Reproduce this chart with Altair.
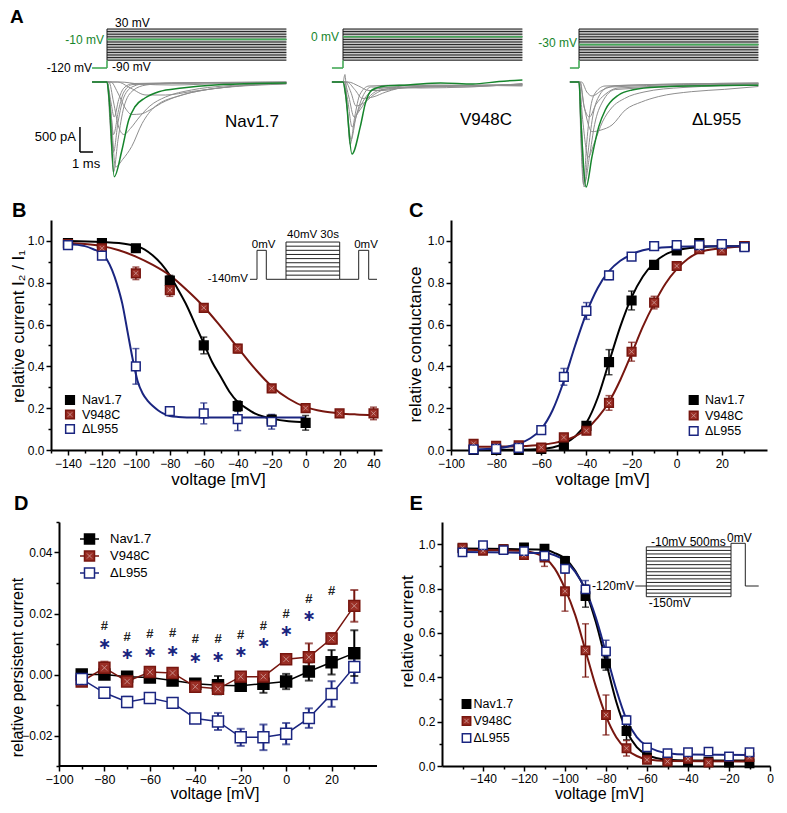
import altair as alt
import pandas as pd

FONT = "Liberation Sans"
SERIES = ["Nav1.7", "V948C", "\u0394L955"]

BLACK = "#000000"
RED = "#77160f"
RED_FILL = "#9a2e25"
BLUE = "#1a2580"
GREEN = "#16852c"
GREEN_STEP = "#44a957"
TRACE_GREY = "#8e8e8e"
PROT_GREY = "#c8c8c8"
XSHAPE = "M-1,-1L1,1M1,-1L-1,1"
FILLS = [BLACK, RED_FILL, "#ffffff"]
STROKES = [BLACK, RED, BLUE]

FILL_SCALE = alt.Scale(domain=SERIES, range=FILLS)
LINE_SCALE = alt.Scale(domain=SERIES, range=STROKES)
ONE = pd.DataFrame({"k": [0]})

# ---------------- Panel A : example traces ----------------
A_LEVELS = list(range(-90, 40, 10))
A_HOLD = -120
A_GREEN_LEVEL = [-10, 0, -30]
A_TRACE_START = [-1.15, -0.85, -0.7]
A_T_END = 13.8

A_NAV_GREEN = ([-1.15, 0, 0.15, 0.56, 1.15, 1.67, 2.15, 2.92, 3.98, 5.77, 8.3, 13.8],
               [0, 0, -300, -1894, -1360, -760, -495, -320, -194, -120, -60, -20])
A_NAV_GREY = [
    ([-1.15, 0, 0.3, 0.55, 0.9, 1.3, 2.0, 13.8], [0, 0, -400, -700, -350, -120, -30, 0]),
    ([-1.15, 0, 0.3, 0.5, 0.9, 1.3, 2.0, 13.8], [0, 0, -600, -1050, -550, -200, -50, -5]),
    ([-1.15, 0, 0.3, 0.5, 0.85, 1.3, 2.0, 3.0, 13.8], [0, 0, -800, -1400, -800, -300, -90, -30, -5]),
    ([-1.15, 0, 0.25, 0.5, 0.85, 1.3, 2.0, 3.0, 5.0, 13.8], [0, 0, -900, -1800, -1150, -500, -170, -60, -20, -5]),
    ([-1.15, 0, 0.3, 0.65, 1.2, 1.9, 2.7, 3.7, 5.8, 8.3, 13.8], [0, 0, -600, -1700, -1550, -1290, -830, -490, -260, -130, -30]),
    ([-1.15, 0.15, 0.5, 0.9, 1.3, 1.8, 2.5, 3.3, 4.5, 6.5, 9.0, 13.8], [0, 0, -400, -900, -1050, -930, -700, -480, -300, -160, -80, -25]),
    ([-1.15, 0.3, 0.8, 1.4, 1.9, 2.6, 3.3, 4.2, 5.5, 7.5, 10.0, 13.8], [0, 0, -200, -520, -650, -640, -560, -420, -280, -160, -80, -30]),
    ([-1.15, 0.8, 1.8, 3.0, 4.5, 6.5, 9.0, 13.8], [0, 0, -120, -260, -260, -190, -110, -40]),
    ([-1.15, 1.0, 2.5, 5.0, 9.0, 13.8], [0, 0, -40, -60, -30, -10]),
]
A_V948C_GREEN = ([-0.85, 0, 0.2, 0.69, 1.33, 1.72, 2.23, 3.25, 5.0, 7.5, 10.0, 12.0, 13.8],
                 [0, 0, -250, -1440, -893, -427, -160, -80, -60, -20, -40, 10, 40])
A_V948C_GREY = [
    ([-0.85, 0, 0.15, 0.3, 0.55, 0.9, 1.3, 2.0, 5.0, 9.0, 13.8], [0, 0, 150, -400, -1250, -700, -250, -80, -60, -100, -30]),
    ([-0.85, 0, 0.3, 0.62, 1.0, 1.5, 2.2, 6.0, 13.8], [0, 0, -500, -1150, -700, -300, -100, -120, -40]),
    ([-0.85, 0, 0.35, 0.7, 1.1, 1.7, 2.5, 7.0, 13.8], [0, 0, -350, -900, -620, -320, -140, -60, -80]),
    ([-0.85, 0.1, 0.45, 0.85, 1.3, 2.0, 3.0, 8.0, 13.8], [0, 0, -300, -700, -560, -300, -150, -90, -50]),
    ([-0.85, 0.2, 0.6, 1.0, 1.6, 2.4, 3.5, 9.0, 13.8], [0, 0, -200, -480, -420, -250, -130, -70, -60]),
    ([-0.85, 0.3, 0.9, 1.5, 2.3, 3.3, 5.0, 13.8], [0, 0, -150, -330, -300, -200, -100, -60]),
    ([-0.85, 0.4, 1.2, 2.0, 3.0, 4.5, 7.0, 13.8], [0, 0, -80, -170, -170, -120, -80, -60]),
]
A_DL_GREEN = ([-0.7, 0, 0.15, 0.55, 1.0, 1.52, 2.02, 3.05, 4.08, 6.1, 11.2, 13.8],
              [0, 0, -800, -2100, -1493, -893, -560, -260, -160, -100, -70, -65])
A_DL_GREY = [
    ([-0.7, 0, 0.15, 0.35, 0.6, 0.9, 1.3, 2.0, 13.8], [0, 0, -1200, -2050, -1200, -500, -200, -80, -20]),
    ([-0.7, 0, 0.15, 0.4, 0.7, 1.05, 1.5, 2.3, 13.8], [0, 0, -1000, -2100, -1400, -700, -300, -100, -30]),
    ([-0.7, 0, 0.2, 0.45, 0.8, 1.2, 1.8, 2.8, 13.8], [0, 0, -900, -2000, -1500, -850, -400, -150, -40]),
    ([-0.7, 0, 0.3, 0.7, 1.2, 1.8, 2.5, 3.5, 5.0, 8.0, 13.8], [0, 0, -800, -1500, -1200, -800, -520, -330, -200, -110, -60]),
    ([-0.7, 0.05, 0.4, 1.0, 1.7, 2.54, 3.56, 4.8, 6.1, 8.66, 11.2, 13.8], [0, 0, -500, -993, -960, -860, -560, -400, -293, -193, -147, -90]),
    ([-0.7, 0.1, 0.4, 0.8, 1.3, 2.0, 3.0, 13.8], [0, 0, -500, -700, -450, -250, -120, -40]),
    ([-0.7, 0.2, 0.6, 1.0, 1.8, 3.0, 13.8], [0, 0, -200, -280, -160, -70, -20]),
]
A_SCALEBAR = [(-2.08, -900, -2.08, -1400), (-2.08, -1400, -1.08, -1400)]  # 500 pA, 1 ms

# ---------------- Panel B ----------------
B_NAV_V = [-140, -120, -100, -80, -60, -40, -20, 0]
B_NAV_Y = [0.99, 0.99, 0.965, 0.81, 0.50, 0.21, 0.145, 0.13]
B_NAV_E = [0.01, 0.01, 0.01, 0.025, 0.04, 0.025, 0.02, 0.035]
B_V948C_V = [-140, -120, -100, -80, -60, -40, -20, 0, 20, 40]
B_V948C_Y = [0.985, 0.965, 0.845, 0.765, 0.68, 0.485, 0.295, 0.20, 0.175, 0.175]
B_V948C_E = [0.01, 0.01, 0.03, 0.03, 0.015, 0.02, 0.01, 0.015, 0.01, 0.03]
B_DL_V = [-140, -120, -100, -80, -60, -40, -20]
B_DL_Y = [0.98, 0.93, 0.40, 0.186, 0.175, 0.148, 0.135]
B_DL_E = [0.02, 0.01, 0.085, 0.01, 0.05, 0.055, 0.035]
B_FIT_NAV_V = [-140, -120, -110, -100, -95, -90, -85, -80, -75, -70, -65, -60, -55, -50, -45, -40, -35, -30, -25, -20, -10, 0]
B_FIT_NAV_Y = [1.0, 0.995, 0.99, 0.975, 0.96, 0.93, 0.89, 0.835, 0.765, 0.69, 0.60, 0.51, 0.42, 0.35, 0.28, 0.23, 0.20, 0.175, 0.16, 0.15, 0.137, 0.132]
B_FIT_V948C_V = [-140, -130, -120, -110, -100, -90, -80, -70, -60, -50, -40, -30, -20, -10, 0, 10, 20, 30, 40]
B_FIT_V948C_Y = [0.99, 0.985, 0.975, 0.955, 0.925, 0.885, 0.835, 0.765, 0.685, 0.59, 0.49, 0.39, 0.305, 0.245, 0.205, 0.185, 0.175, 0.17, 0.167]
B_FIT_DL_V = [-140, -130, -125, -120, -117, -114, -111, -108, -105, -102, -99, -96, -93, -90, -87, -84, -80, -75, -70, -60, -40, -20, 0]
B_FIT_DL_Y = [0.985, 0.975, 0.96, 0.94, 0.91, 0.86, 0.79, 0.70, 0.57, 0.44, 0.33, 0.27, 0.235, 0.21, 0.19, 0.175, 0.163, 0.158, 0.156, 0.155, 0.155, 0.155, 0.155]
B_INSET_SEG = [(0, -140, 7, -140), (7, -140, 7, 0), (7, 0, 16.3, 0), (16.3, 0, 16.3, -140),
               (16.3, -140, 36, -140), (36, -140, 36, 40), (89.7, -140, 89.7, 40),
               (89.7, -140, 108.7, -140), (108.7, -140, 108.7, 0), (108.7, 0, 118.7, 0),
               (118.7, 0, 118.7, -140), (118.7, -140, 127, -140)]
B_INSET_BLOCK = (36, 89.7, list(range(-140, 41, 20)))

# ---------------- Panel C ----------------
C_V = [-90, -80, -70, -60, -50, -40, -30, -20, -10, 0, 10, 20, 30]
C_NAV_Y = [0.0, 0.0, 0.0, 0.005, 0.02, 0.115, 0.42, 0.715, 0.885, 0.955, 0.99, 0.98, 0.975]
C_NAV_E = [0, 0, 0, 0.005, 0.01, 0.015, 0.06, 0.045, 0.02, 0.01, 0.01, 0.01, 0.01]
C_V948C_Y = [0.03, 0.02, 0.022, 0.012, 0.06, 0.092, 0.225, 0.47, 0.705, 0.88, 0.96, 0.955, 0.975]
C_V948C_E = [0.005, 0.005, 0.005, 0.005, 0.01, 0.01, 0.035, 0.045, 0.03, 0.01, 0.01, 0.01, 0.01]
C_DL_Y = [0.003, 0.005, 0.01, 0.095, 0.35, 0.665, 0.835, 0.925, 0.975, 0.98, 0.98, 0.985, 0.97]
C_DL_E = [0, 0, 0, 0.01, 0.04, 0.04, 0.02, 0.01, 0.01, 0.01, 0.01, 0.01, 0.01]
C_FIT_NAV_V = [-90, -70, -60, -55, -50, -45, -40, -35, -30, -25, -20, -15, -10, -5, 0, 10, 20, 30]
C_FIT_NAV_Y = [0.0, 0.001, 0.005, 0.012, 0.03, 0.065, 0.13, 0.25, 0.42, 0.59, 0.73, 0.83, 0.895, 0.935, 0.955, 0.97, 0.975, 0.975]
C_FIT_V948C_V = [-90, -80, -70, -60, -50, -45, -40, -35, -30, -25, -20, -15, -10, -5, 0, 5, 10, 20, 30]
C_FIT_V948C_Y = [0.015, 0.016, 0.018, 0.025, 0.045, 0.065, 0.10, 0.155, 0.23, 0.335, 0.46, 0.59, 0.70, 0.795, 0.865, 0.915, 0.945, 0.965, 0.975]
C_FIT_DL_V = [-90, -80, -75, -70, -65, -60, -55, -50, -45, -40, -35, -30, -25, -20, -15, -10, 0, 10, 20, 30]
C_FIT_DL_Y = [0.002, 0.008, 0.016, 0.03, 0.055, 0.10, 0.19, 0.33, 0.50, 0.655, 0.775, 0.855, 0.905, 0.935, 0.955, 0.965, 0.972, 0.975, 0.975, 0.975]

# ---------------- Panel D ----------------
D_V = [-90, -80, -70, -60, -50, -40, -30, -20, -10, 0, 10, 20, 30]
D_NAV_Y = [0.0, 0.0, -0.0007, -0.001, -0.002, -0.003, -0.0035, -0.0037, -0.003, -0.0023, 0.001, 0.004, 0.007]
D_NAV_E = [0.001, 0.001, 0.001, 0.001, 0.001, 0.001, 0.003, 0.001, 0.003, 0.0025, 0.003, 0.004, 0.0075]
D_V948C_Y = [-0.0023, 0.0022, -0.0023, 0.0008, 0.0005, -0.004, -0.0047, -0.0007, -0.0007, 0.005, 0.0057, 0.0118, 0.0225]
D_V948C_E = [0.0005, 0.002, 0.0005, 0.0005, 0.0005, 0.001, 0.001, 0.001, 0.001, 0.001, 0.0045, 0.0018, 0.0052]
D_DL_Y = [-0.0015, -0.006, -0.009, -0.0077, -0.0093, -0.0144, -0.0154, -0.0206, -0.0206, -0.0194, -0.0143, -0.0064, 0.0025]
D_DL_E = [0.0005, 0.0015, 0.0017, 0.001, 0.001, 0.001, 0.0028, 0.0028, 0.0042, 0.0035, 0.0032, 0.0042, 0.0053]
D_HASH_V = [-80, -70, -60, -50, -40, -30, -20, -10, 0, 10, 20]
D_HASH_Y = [0.016, 0.0123, 0.0134, 0.0137, 0.0115, 0.0115, 0.0131, 0.016, 0.0198, 0.0249, 0.0275]
D_STAR_V = [-80, -70, -60, -50, -40, -30, -20, -10, 0, 10]
D_STAR_Y = [0.0101, 0.0067, 0.0075, 0.0078, 0.0053, 0.0057, 0.0073, 0.0102, 0.0142, 0.0193]
D_X_RANGE = [-100, 40]

# ---------------- Panel E ----------------
E_V = [-150, -140, -130, -120, -110, -100, -90, -80, -70, -60, -50, -40, -30, -20, -10]
E_NAV_Y = [0.981, 0.978, 0.978, 0.985, 0.98, 0.924, 0.766, 0.462, 0.158, 0.04, 0.025, 0.02, 0.02, 0.015, 0.012]
E_NAV_E = [0.005, 0.005, 0.005, 0.005, 0.01, 0.02, 0.05, 0.03, 0.04, 0.01, 0.005, 0.005, 0.005, 0.005, 0.005]
E_V948C_Y = [0.984, 0.97, 0.978, 0.951, 0.94, 0.788, 0.521, 0.23, 0.08, 0.028, 0.02, 0.032, 0.015, 0.04, 0.04]
E_V948C_E = [0.005, 0.005, 0.005, 0.01, 0.04, 0.09, 0.12, 0.09, 0.035, 0.01, 0.005, 0.005, 0.005, 0.005, 0.005]
E_DL_Y = [0.963, 0.995, 0.973, 0.969, 0.948, 0.889, 0.796, 0.517, 0.207, 0.084, 0.058, 0.062, 0.065, 0.043, 0.062]
E_DL_E = [0.005, 0.005, 0.005, 0.005, 0.01, 0.02, 0.04, 0.05, 0.02, 0.01, 0.005, 0.005, 0.005, 0.005, 0.005]
E_FIT_NAV_V = [-150, -110, -105, -100, -95, -90, -85, -80, -75, -70, -65, -60, -55, -50, -40, -10]
E_FIT_NAV_Y = [0.98, 0.975, 0.96, 0.935, 0.88, 0.79, 0.65, 0.47, 0.29, 0.16, 0.085, 0.05, 0.035, 0.028, 0.025, 0.025]
E_FIT_V948C_V = [-150, -120, -115, -110, -105, -100, -95, -90, -85, -80, -75, -70, -65, -60, -50, -10]
E_FIT_V948C_Y = [0.975, 0.97, 0.96, 0.94, 0.89, 0.80, 0.68, 0.52, 0.36, 0.225, 0.13, 0.075, 0.045, 0.03, 0.022, 0.02]
E_FIT_DL_V = [-150, -110, -105, -100, -95, -90, -85, -80, -75, -70, -65, -60, -55, -50, -40, -10]
E_FIT_DL_Y = [0.965, 0.96, 0.95, 0.925, 0.875, 0.795, 0.67, 0.51, 0.345, 0.21, 0.13, 0.09, 0.068, 0.058, 0.052, 0.05]
E_INSET_SEG = [(0, -120, 11, -120), (11, -150, 11, -10), (95.7, -150, 95.7, 0), (95.7, 0, 110, 0),
               (110, 0, 110, -120), (110, -120, 123.4, -120)]
E_INSET_BLOCK = (11, 95.7, list(range(-150, -9, 10)))


# ================= helpers =================
def pts_df(rows):
    recs = []
    for name, vs, ys, es in rows:
        for v, y, e in zip(vs, ys, es):
            recs.append({"series": name, "v": v, "y": y, "lo": y - e, "hi": y + e})
    return pd.DataFrame(recs)


def line_df(rows):
    recs = []
    for name, vs, ys in rows:
        for v, y in zip(vs, ys):
            recs.append({"series": name, "v": v, "y": y})
    return pd.DataFrame(recs)


def txt(s, x, y, size=12, color="black", align="left", baseline="middle", weight="normal", font=FONT):
    return alt.Chart(ONE).mark_text(text=s, align=align, baseline=baseline, fontSize=size,
                                    color=color, fontWeight=weight, font=font).encode(
        x=alt.value(x), y=alt.value(y))


def letter(s, x, y, size=20):
    return txt(s, x, y, size=size, weight="bold", align="left", baseline="alphabetic")


def x_axis(values, title_x, size=12, pad=3, domain=True, title_y=29, title_size=17):
    test = "abs(round(datum.value)) % 20 == 0"
    return alt.Axis(values=values, format="d", labelExpr=f"({test}) ? datum.label : ''",
                    tickSize={"condition": {"test": test, "value": 5}, "value": 3},
                    title="voltage [mV]", titleX=title_x, titleY=title_y, titleBaseline="middle",
                    titleAlign="center", titleAngle=0, labelFontSize=size, labelPadding=pad,
                    domain=domain, titleFontSize=title_size)


def y_axis(values, fmt, mult, title, title_x, title_y, size=12, offset=0, title_size=17):
    test = f"abs(round(datum.value*{mult})) % 2 == 0"
    return alt.Axis(values=values, format=fmt, labelExpr=f"({test}) ? datum.label : ''",
                    tickSize={"condition": {"test": test, "value": 5}, "value": 3},
                    title=title, titleX=title_x, titleY=title_y, titleBaseline="middle",
                    titleAlign="center", titleAngle=270, labelFontSize=size, labelPadding=2,
                    offset=offset, titleFontSize=title_size)


def seg_layer(segs, xs, ys, color, width):
    df = pd.DataFrame([{"t1": a, "v1": b, "t2": c, "v2": d} for a, b, c, d in segs])
    return alt.Chart(df).mark_rule(color=color, strokeWidth=width).encode(
        x=alt.X("t1:Q", scale=xs, axis=None), x2="t2:Q",
        y=alt.Y("v1:Q", scale=ys, axis=None), y2="v2:Q")


def data_layers(curves, pts, X, Y, size, cap, ew, lines=False):
    col = alt.Color("series:N", scale=LINE_SCALE, legend=None)
    layers = []
    if curves is not None:
        layers.append(alt.Chart(curves).mark_line(strokeWidth=2, interpolate="monotone").encode(
            x=X("v"), y=Y("y"), color=col))
    if lines:
        layers.append(alt.Chart(pts).mark_line(strokeWidth=1.5).encode(x=X("v"), y=Y("y"), color=col))
    layers.append(alt.Chart(pts).mark_rule(strokeWidth=ew).encode(x=X("v"), y=Y("lo"), y2="hi:Q", color=col))
    for f in ("lo", "hi"):
        layers.append(alt.Chart(pts).mark_tick(orient="horizontal", size=cap, thickness=ew).encode(
            x=X("v"), y=Y(f), color=col))
    layers.append(alt.Chart(pts).mark_square(size=size, strokeWidth=1.5, opacity=1).encode(
        x=X("v"), y=Y("y"),
        fill=alt.Fill("series:N", scale=FILL_SCALE, legend=None),
        stroke=alt.Stroke("series:N", scale=LINE_SCALE, legend=None)))
    layers.append(alt.Chart(pts).transform_filter(alt.datum.series == "V948C").mark_point(
        shape=XSHAPE, size=size * 0.25, stroke="white", strokeWidth=0.8, opacity=0.55, filled=False).encode(
        x=X("v"), y=Y("y")))
    return layers


def key_legend(x_sym, y0, dy, x_lab, size, font_size=12.5, line_half=None):
    """Legend keys drawn as marks: symbol (optionally with a line through it) and label."""
    layers = []
    for i, s in enumerate(SERIES):
        y = y0 + i * dy
        if line_half:
            layers.append(alt.Chart(ONE).mark_rule(color=STROKES[i], strokeWidth=1.5).encode(
                x=alt.value(x_sym - line_half), x2=alt.value(x_sym + line_half), y=alt.value(y)))
        layers.append(alt.Chart(ONE).mark_square(size=size, fill=FILLS[i], stroke=STROKES[i],
                                                 strokeWidth=1.5, opacity=1).encode(
            x=alt.value(x_sym), y=alt.value(y)))
        if s == "V948C":
            layers.append(alt.Chart(ONE).mark_point(shape=XSHAPE, size=size * 0.25, stroke="white",
                                                    strokeWidth=0.8, opacity=0.55, filled=False).encode(
                x=alt.value(x_sym), y=alt.value(y)))
        layers.append(txt(s, x_lab, y, size=font_size))
    return layers


# ================= Panel A =================
A_XS = alt.Scale(domain=[-56 / 13, 180 / 13], nice=False, zero=False)
A_IS = alt.Scale(domain=[-2080, 1240], nice=False, zero=False)
A_VS = alt.Scale(domain=[-573.8, 64.6], nice=False, zero=False)


def a_panel(k, grey, green, labels, scalebar=False):
    t0 = A_TRACE_START[k]
    gl = A_GREEN_LEVEL[k]
    rect = alt.Chart(pd.DataFrame([{"t1": 0, "t2": A_T_END, "v1": A_LEVELS[0], "v2": A_LEVELS[-1]}])).mark_rect(
        fill=PROT_GREY).encode(x=alt.X("t1:Q", scale=A_XS, axis=None), x2="t2:Q",
                               y=alt.Y("v1:Q", scale=A_VS, axis=None), y2="v2:Q")
    black = seg_layer([(0, lv, A_T_END, lv) for lv in A_LEVELS] + [(0, A_LEVELS[0], 0, A_LEVELS[-1])],
                      A_XS, A_VS, "#1a1a1a", 1)
    grn = seg_layer([(t0, A_HOLD, 0, A_HOLD), (0, A_HOLD, 0, A_LEVELS[0]), (0, gl, A_T_END, gl)],
                    A_XS, A_VS, GREEN_STEP, 1.6)
    recs = []
    for j, (ts, cs) in enumerate(grey):
        for i, (t, c) in enumerate(zip(ts, cs)):
            recs.append({"trace": j, "t": t, "I": c, "i": i})
    gdf = pd.DataFrame(recs)
    gr = pd.DataFrame({"t": green[0], "I": green[1], "i": list(range(len(green[0])))})
    grey_l = alt.Chart(gdf).mark_line(color=TRACE_GREY, strokeWidth=1, interpolate="monotone").encode(
        x=alt.X("t:Q", scale=A_XS, axis=None), y=alt.Y("I:Q", scale=A_IS, axis=None),
        detail="trace:N", order="i:Q")
    green_l = alt.Chart(gr).mark_line(color=GREEN, strokeWidth=1.5, interpolate="monotone").encode(
        x=alt.X("t:Q", scale=A_XS, axis=None), y=alt.Y("I:Q", scale=A_IS, axis=None), order="i:Q")
    tr_layers = [grey_l, green_l]
    if scalebar:
        tr_layers.append(seg_layer(A_SCALEBAR, A_XS, A_IS, "black", 1.5))
    prot = alt.layer(rect, black, grn)
    tr = alt.layer(*tr_layers)
    return alt.layer(prot, tr, *labels).resolve_scale(y="independent").properties(width=236, height=166)


A1 = a_panel(0, A_NAV_GREY, A_NAV_GREEN, [
    letter("A", -41, 3.2, size=19),
    txt("30 mV", 64, 2.7),
    txt("-10 mV", 53, 20, color=GREEN, align="right"),
    txt("-120 mV", 41, 48, align="right"),
    txt("-90 mV", 61, 47),
    txt("Nav1.7", 174, 102, size=17),
    txt("500 pA", 25, 117, size=13, align="right"),
    txt("1 ms", 21, 143.5, size=13),
], scalebar=True)
A2 = a_panel(1, A_V948C_GREY, A_V948C_GREEN, [
    txt("0 mV", 52, 17, color=GREEN, align="right"),
    txt("V948C", 173, 100, size=17),
])
A3 = a_panel(2, A_DL_GREY, A_DL_GREEN, [
    txt("-30 mV", 54, 23.3, color=GREEN, align="right"),
    txt("\u0394L955", 169, 100, size=17),
])

# ================= Panel B =================
xsB = alt.Scale(domain=[-150, 45], nice=False, zero=False)
ysB = alt.Scale(domain=[0, 1.1], nice=False, zero=False)
Y_TICKS_1 = [round(0.1 * i, 1) for i in range(0, 11)]
axXB = x_axis(list(range(-150, 41, 10)), 167)
axYB = y_axis(Y_TICKS_1, ".1f", 10, "relative current I\u2082 / I\u2081", -33, 106)
XB = lambda f: alt.X(f"{f}:Q", scale=xsB, axis=axXB)
YB = lambda f: alt.Y(f"{f}:Q", scale=ysB, axis=axYB)
ptsB = pts_df([(SERIES[0], B_NAV_V, B_NAV_Y, B_NAV_E), (SERIES[1], B_V948C_V, B_V948C_Y, B_V948C_E),
               (SERIES[2], B_DL_V, B_DL_Y, B_DL_E)])
curB = line_df([(SERIES[0], B_FIT_NAV_V, B_FIT_NAV_Y), (SERIES[1], B_FIT_V948C_V, B_FIT_V948C_Y),
                (SERIES[2], B_FIT_DL_V, B_FIT_DL_Y)])
mainB = alt.layer(*data_layers(curB, ptsB, XB, YB, 75, 7, 1.5))
ixB = alt.Scale(domain=[-199, 132], nice=False, zero=False)
iyB = alt.Scale(domain=[-964.6, 146.5], nice=False, zero=False)
t1, t2, lv = B_INSET_BLOCK
insetB = alt.layer(seg_layer(B_INSET_SEG + [(t1, v, t2, v) for v in lv], ixB, iyB, "#222222", 1))
B = alt.layer(mainB, insetB,
              txt("-140mV", 197, 59, size=11.5, align="right"),
              txt("0mV", 212.7, 24.7, size=11.5, align="center"),
              txt("40mV 30s", 262, 15.3, size=11.5, align="center"),
              txt("0mV", 315, 24.7, size=11.5, align="center"),
              letter("B", -39, -3),
              *key_legend(19, 180, 14.5, 31, 75),
              alt.Chart(ONE).mark_point(opacity=0, size=1).encode(x=alt.value(-41), y=alt.value(100)),
              ).resolve_scale(x="independent", y="independent").properties(width=331, height=230)

# ================= Panel C =================
xsC = alt.Scale(domain=[-100, 40], nice=False, zero=False)
ysC = alt.Scale(domain=[0, 1.1], nice=False, zero=False)
axXC = x_axis(list(range(-100, 31, 10)), 151)
axYC = y_axis(Y_TICKS_1, ".1f", 10, "relative conductance", -35.5, 124)
XC = lambda f: alt.X(f"{f}:Q", scale=xsC, axis=axXC)
YC = lambda f: alt.Y(f"{f}:Q", scale=ysC, axis=axYC)
ptsC = pts_df([(SERIES[0], C_V, C_NAV_Y, C_NAV_E), (SERIES[1], C_V, C_V948C_Y, C_V948C_E),
               (SERIES[2], C_V, C_DL_Y, C_DL_E)])
curC = line_df([(SERIES[0], C_FIT_NAV_V, C_FIT_NAV_Y), (SERIES[1], C_FIT_V948C_V, C_FIT_V948C_Y),
                (SERIES[2], C_FIT_DL_V, C_FIT_DL_Y)])
C = alt.layer(*data_layers(curC, ptsC, XC, YC, 75, 7, 1.5),
              *key_legend(242.7, 180, 15.5, 254, 75),
              letter("C", -42, -3)).properties(width=316, height=230)

# ================= Panel D =================
# plot area starts 8 px left of the y axis (axis shifted with a negative offset)
H_DE = 244
xsD = alt.Scale(domain=[-100 - 8 / 2.271, 40], nice=False, zero=False)
ysD = alt.Scale(domain=[-0.03, 0.05], nice=False, zero=False)
axXD = x_axis(list(range(-100, 31, 10)), 163.5, size=12.5, pad=2, domain=False, title_y=27.5, title_size=16)
axYD = y_axis([round(0.01 * i, 2) for i in range(-3, 6)], ".2f", 100, "relative persistent current",
              -42, 145, size=12, offset=-8, title_size=16)
XD = lambda f: alt.X(f"{f}:Q", scale=xsD, axis=axXD)
YD = lambda f: alt.Y(f"{f}:Q", scale=ysD, axis=axYD)
ptsD = pts_df([(SERIES[0], D_V, D_NAV_Y, D_NAV_E), (SERIES[1], D_V, D_V948C_Y, D_V948C_E),
               (SERIES[2], D_V, D_DL_Y, D_DL_E)])
hashD = alt.Chart(pd.DataFrame({"v": D_HASH_V, "y": D_HASH_Y})).mark_text(
    text="#", fontSize=13, fontWeight="bold", baseline="middle", color="#222222").encode(x=XD("v"), y=YD("y"))
starD = alt.Chart(pd.DataFrame({"v": D_STAR_V, "y": D_STAR_Y})).mark_text(
    text="\u2217", font="DejaVu Sans", fontSize=16, fontWeight="bold", baseline="middle", color=BLUE).encode(
    x=XD("v"), y=YD("y"))
xlineD = alt.Chart(pd.DataFrame({"v": [D_X_RANGE[0]], "v2": [D_X_RANGE[1]], "y": [-0.03]})).mark_rule(
    color="black", strokeWidth=2).encode(x=XD("v"), x2="v2:Q", y=YD("y"))
D = alt.layer(xlineD, *data_layers(None, ptsD, XD, YD, 120, 8, 2, lines=True), hashD, starD,
              *key_legend(38.5, 17, 17, 59, 100, font_size=13, line_half=9.5),
              letter("D", -37, -12)).properties(width=326, height=H_DE)

# ================= Panel E =================
W_E = 328
xsE = alt.Scale(domain=[-160, 0], nice=False, zero=False)
ysE = alt.Scale(domain=[0, 1.1], nice=False, zero=False)
axXE = x_axis(list(range(-150, 1, 10)), 157, pad=2, title_y=27.5, title_size=16)
axYE = y_axis(Y_TICKS_1, ".1f", 10, "relative current", -34.5, 109)
XE = lambda f: alt.X(f"{f}:Q", scale=xsE, axis=axXE)
YE = lambda f: alt.Y(f"{f}:Q", scale=ysE, axis=axYE)
ptsE = pts_df([(SERIES[0], E_V, E_NAV_Y, E_NAV_E), (SERIES[1], E_V, E_V948C_Y, E_V948C_E),
               (SERIES[2], E_V, E_DL_Y, E_DL_E)])
curE = line_df([(SERIES[0], E_FIT_NAV_V, E_FIT_NAV_Y), (SERIES[1], E_FIT_V948C_V, E_FIT_V948C_Y),
                (SERIES[2], E_FIT_DL_V, E_FIT_DL_Y)])
mainE = alt.layer(*data_layers(curE, ptsE, XE, YE, 70, 7, 1.5))
ixE = alt.Scale(domain=[-193.3, 134.7], nice=False, zero=False)
iyE = alt.Scale(domain=[-625.6, 59.8], nice=False, zero=False)
t1, t2, lv = E_INSET_BLOCK
insetE = alt.layer(seg_layer(E_INSET_SEG + [(t1, v, t2, v) for v in lv], ixE, iyE, "#222222", 1))
E = alt.layer(mainE, insetE,
              txt("-120mV", 192, 64, size=12, align="right"),
              txt("-10mV 500ms", 209, 20, size=12),
              txt("0mV", 285, 15.7, size=12),
              txt("-150mV", 206.7, 80.7, size=12),
              *key_legend(24.5, 182, 17, 31.5, 70),
              letter("E", -32.5, -12),
              ).resolve_scale(x="independent", y="independent").properties(width=W_E, height=H_DE)

rowA = alt.hconcat(A1, A2, A3, spacing=0, bounds="flush")
rowBC = alt.hconcat(B, C, spacing=69, bounds="flush")
rowDE = alt.hconcat(D, E, spacing=65, bounds="flush")
top = alt.vconcat(rowA, rowBC, spacing=11)
chart = alt.vconcat(top, rowDE, spacing=7).properties(padding=0).configure(
    font=FONT).configure_axis(
    domainColor="black", domainWidth=2, tickColor="black", tickWidth=1.5, labelColor="black",
    titleColor="black", labelFont=FONT, titleFont=FONT, titleFontSize=17, titleFontWeight="normal",
    labelFontSize=12, grid=False, labelFlush=False, labelOverlap=False).configure_view(
    stroke=None)

chart.save("out.html", embed_options={"renderer": "svg", "actions": False})
